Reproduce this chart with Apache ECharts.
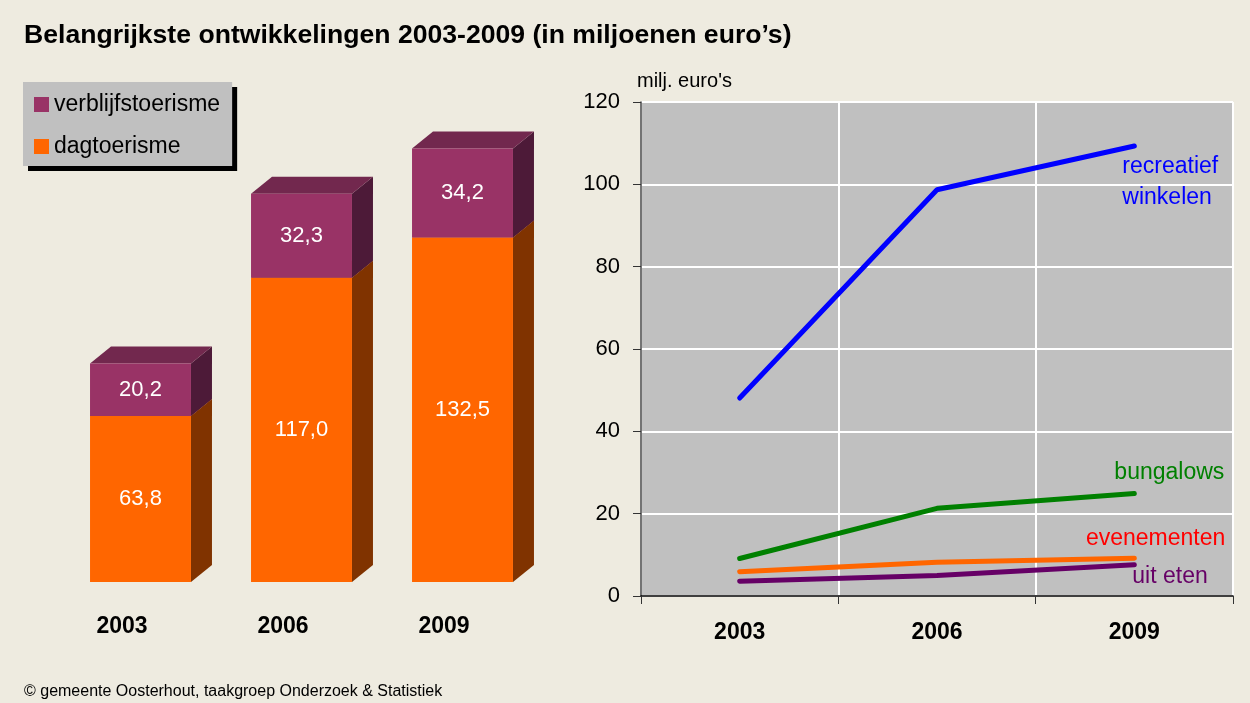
<!DOCTYPE html>
<html>
<head>
<meta charset="utf-8">
<script src="https://cdn.jsdelivr.net/npm/echarts@6/dist/echarts.min.js"></script>
<style>
html,body{margin:0;padding:0;background:#EEEBE0;}
#c{width:1250px;height:703px;}
</style>
</head>
<body>
<div id="c"></div>
<script>
// ---- data ----
const years = ['2003', '2006', '2009'];
const dagtoerisme = [63.8, 117.0, 132.5];
const verblijfstoerisme = [20.2, 32.3, 34.2];

const recreatiefWinkelen = [48.1, 98.7, 109.3];
const bungalows = [9.1, 21.3, 24.9];
const evenementen = [5.9, 8.2, 9.2];
const uitEten = [3.6, 5.0, 7.6];

const FONT = 'Arial, "Liberation Sans", sans-serif';

function fmt(v){ return v.toFixed(1).replace('.', ','); }

function bar3D(front, side, top){
  return function(params, api){
    const idx = api.value(0), start = api.value(1), end = api.value(2), val = api.value(3);
    const p0 = api.coord([idx, start]);
    const p1 = api.coord([idx, end]);
    const band = api.size([1, 0])[0];
    const w = band * 0.627;
    const x0 = p0[0] - w / 2, x1 = x0 + w;
    const dx = 21, dy = 17;
    const yb = p0[1], yt = p1[1];
    return {
      type: 'group',
      children: [
        {type: 'polygon', shape: {points: [[x1, yb], [x1 + dx, yb - dy], [x1 + dx, yt - dy], [x1, yt]]}, style: {fill: side}},
        {type: 'polygon', shape: {points: [[x0, yt], [x1, yt], [x1 + dx, yt - dy], [x0 + dx, yt - dy]]}, style: {fill: top}},
        {type: 'rect', shape: {x: x0, y: yt, width: w, height: yb - yt}, style: {fill: front}},
        {type: 'text', x: (x0 + x1) / 2, y: (yt + yb) / 2,
         style: {text: fmt(val), fill: '#FFFFFF', font: '22px ' + FONT, align: 'center', verticalAlign: 'middle'}}
      ]
    };
  };
}

const dagData = years.map((y, i) => [i, 0, dagtoerisme[i], dagtoerisme[i]]);
const verbData = years.map((y, i) => [i, dagtoerisme[i], dagtoerisme[i] + verblijfstoerisme[i], verblijfstoerisme[i]]);

function lineSeries(name, data, color, labelText, labelColor, align, offset){
  return {
    name: name, type: 'line', xAxisIndex: 1, yAxisIndex: 1, symbol: 'none',
    lineStyle: {color: color, width: 5, cap: 'round'}, itemStyle: {color: color},
    endLabel: {show: true, formatter: labelText, color: labelColor, fontSize: 23, lineHeight: 31,
               fontFamily: FONT, align: align, verticalAlign: 'middle', distance: 0, offset: offset},
    data: data
  };
}

const chart = echarts.init(document.getElementById('c'));
chart.setOption({
  backgroundColor: '#EEEBE0',
  animation: false,
  textStyle: {fontFamily: FONT},
  title: [
    {text: 'Belangrijkste ontwikkelingen 2003-2009 (in miljoenen euro’s)', left: 19, top: 17,
     textStyle: {fontSize: 26.6, fontWeight: 'bold', color: '#000', fontFamily: FONT}},
    {text: '© gemeente Oosterhout, taakgroep Onderzoek & Statistiek', left: 19, top: 679,
     textStyle: {fontSize: 16, fontWeight: 'normal', color: '#000', fontFamily: FONT}}
  ],
  legend: {
    left: 23, top: 82, orient: 'vertical',
    data: ['verblijfstoerisme', 'dagtoerisme'],
    icon: 'rect', itemWidth: 15, itemHeight: 15, itemGap: 19,
    padding: [11, 12, 8, 11],
    backgroundColor: '#C0C0C0',
    shadowColor: '#000', shadowBlur: 0, shadowOffsetX: 5, shadowOffsetY: 5,
    textStyle: {fontSize: 23, color: '#000', fontFamily: FONT, lineHeight: 22}
  },
  grid: [
    {left: 60, width: 483, top: 114, height: 468},
    {left: 641, right: 17, top: 102, bottom: 107, show: true, backgroundColor: '#C0C0C0', borderWidth: 0}
  ],
  xAxis: [
    {gridIndex: 0, type: 'category', data: years,
     axisLine: {show: false}, axisTick: {show: false}, splitLine: {show: false},
     axisLabel: {margin: 33, fontSize: 23, fontWeight: 'bold', color: '#000', padding: [0, 37, 0, 0]}},
    {gridIndex: 1, type: 'category', data: years, boundaryGap: true,
     axisLine: {show: true, lineStyle: {color: '#000', width: 1.5}},
     axisTick: {show: true, interval: 0, length: 8, lineStyle: {color: '#333'}},
     splitLine: {show: true, interval: 0, lineStyle: {color: '#FFFFFF', width: 2}},
     axisLabel: {margin: 25, fontSize: 23, fontWeight: 'bold', color: '#000'}}
  ],
  yAxis: [
    {gridIndex: 0, type: 'value', min: 0, max: 180, show: false, splitLine: {show: false}},
    {gridIndex: 1, type: 'value', min: 0, max: 120, interval: 20,
     name: "milj. euro's", nameLocation: 'end', nameGap: 11,
     nameTextStyle: {fontSize: 20, color: '#000', align: 'left', fontFamily: FONT, padding: [0, 0, 0, -4]},
     axisLine: {show: true, lineStyle: {color: '#444', width: 1.5}},
     axisTick: {show: true, length: 8, lineStyle: {color: '#333'}},
     splitLine: {show: true, lineStyle: {color: '#FFFFFF', width: 2}},
     axisLabel: {margin: 21, fontSize: 22, color: '#000'}}
  ],
  series: [
    {name: 'dagtoerisme', type: 'custom', xAxisIndex: 0, yAxisIndex: 0,
     itemStyle: {color: '#FF6600'}, encode: {x: 0, y: [1, 2]},
     renderItem: bar3D('#FF6600', '#803300', '#B34700'), data: dagData},
    {name: 'verblijfstoerisme', type: 'custom', xAxisIndex: 0, yAxisIndex: 0,
     itemStyle: {color: '#993366'}, encode: {x: 0, y: [1, 2]},
     renderItem: bar3D('#993366', '#4D1A38', '#72284E'), data: verbData},
    lineSeries('recreatief winkelen', recreatiefWinkelen, '#0000FF', 'recreatief\nwinkelen', '#0000FF', 'left', [-12, 36]),
    lineSeries('bungalows', bungalows, '#008000', 'bungalows', '#008000', 'right', [90, -21]),
    lineSeries('evenementen', evenementen, '#FF6600', 'evenementen', '#FF0000', 'right', [91, -19]),
    lineSeries('uit eten', uitEten, '#660066', 'uit eten', '#660066', 'left', [-2, 12])
  ]
});
</script>
</body>
</html>
